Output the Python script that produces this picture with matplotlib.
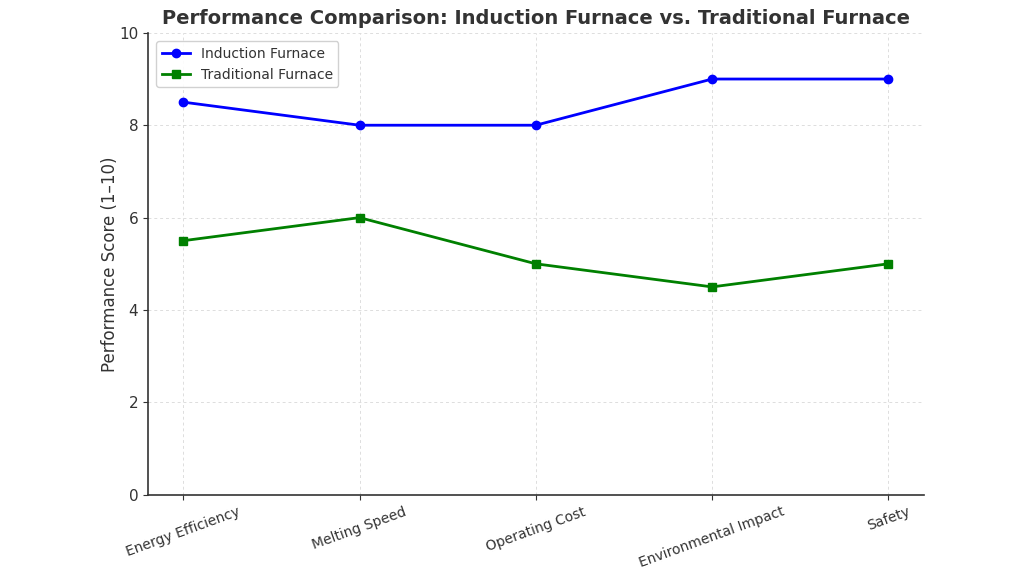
import matplotlib.pyplot as plt
import numpy as np

# === DATA ===
criteria = ["Energy Efficiency", "Melting Speed", "Operating Cost",
            "Environmental Impact", "Safety"]
induction_scores = [8.5, 8, 8, 9, 9]
traditional_scores = [5.5, 6, 5, 4.5, 5]

x = np.arange(len(criteria))

# === PLOT ===
fig, ax = plt.subplots(figsize=(10.24, 5.76), dpi=100)
ax.plot(x, induction_scores, marker="o", color="blue", linewidth=2,
        markersize=6, label="Induction Furnace")
ax.plot(x, traditional_scores, marker="s", color="green", linewidth=2,
        markersize=6, label="Traditional Furnace")

ax.set_ylim(0, 10)
ax.set_xticks(x)
ax.set_xticklabels(criteria, rotation=20, fontsize=10, color="#333333")
ax.tick_params(axis="y", labelsize=11, colors="#333333")
ax.tick_params(axis="x", colors="#333333")
ax.set_ylabel("Performance Score (1\u201310)", fontsize=12, color="#333333",
              labelpad=0)
ax.set_title("Performance Comparison: Induction Furnace vs. Traditional Furnace",
             fontsize=14, fontweight="bold", color="#333333", pad=6)
ax.grid(True, linestyle=(0, (3, 3)), color="#dddddd", linewidth=0.7)
ax.set_axisbelow(True)
for side in ["top", "right"]:
    ax.spines[side].set_visible(False)
for side in ["left", "bottom"]:
    ax.spines[side].set_color("#333333")
    ax.spines[side].set_linewidth(1.2)
leg = ax.legend(loc="upper left", fontsize=10, framealpha=0.9,
                borderaxespad=0.6)
for t in leg.get_texts():
    t.set_color("#333333")

plt.subplots_adjust(left=0.1445, right=0.902, top=0.943, bottom=0.141)
plt.savefig("out.png", dpi=100)
plt.close()
